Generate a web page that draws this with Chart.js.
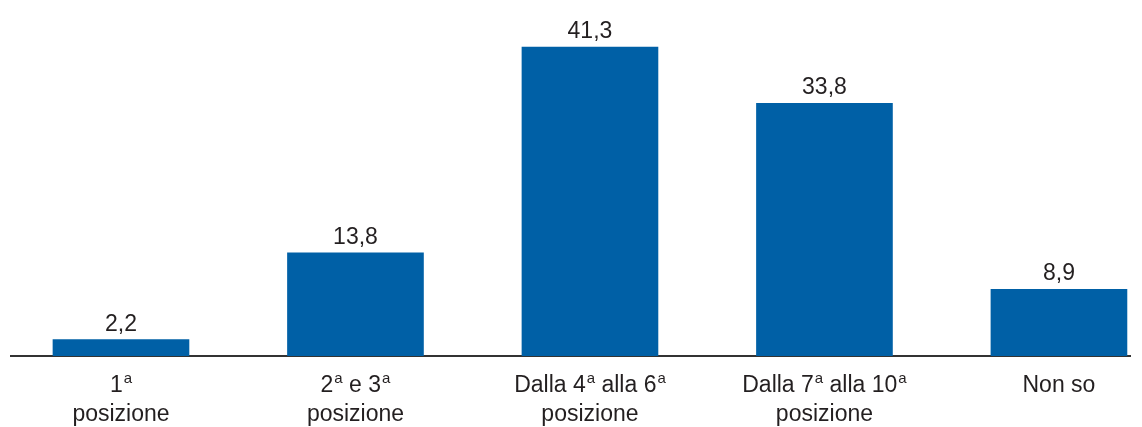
<!DOCTYPE html>
<html>
<head>
<meta charset="utf-8">
<script src="https://cdn.jsdelivr.net/npm/chart.js@4/dist/chart.umd.min.js"></script>
<style>
  html, body { margin: 0; padding: 0; background: #fff; }
  #wrap { width: 1142px; height: 427px; }
</style>
</head>
<body>
<div id="wrap"><canvas id="posChart"></canvas></div>
<script>
// categories (ª is set as a raised small "a") and values
var categories = [
    ['1ª', 'posizione'],
    ['2ª e 3ª', 'posizione'],
    ['Dalla 4ª alla 6ª', 'posizione'],
    ['Dalla 7ª alla 10ª', 'posizione'],
    ['Non so']
];
var values = [2.2, 13.8, 41.3, 33.8, 8.9];

var fontFamily = '"Liberation Sans", Arial, sans-serif';
var textColor = '#231f20';

// writes the value above each bar, with a decimal comma
var valueLabels = {
    id: 'valueLabels',
    afterDatasetsDraw: function (chart) {
        var ctx = chart.ctx;
        var meta = chart.getDatasetMeta(0);
        ctx.save();
        ctx.font = '23px ' + fontFamily;
        ctx.fillStyle = textColor;
        ctx.textAlign = 'center';
        ctx.textBaseline = 'alphabetic';
        meta.data.forEach(function (bar, i) {
            var txt = values[i].toFixed(1).replace('.', ',');
            ctx.fillText(txt, bar.x, bar.y - 9);
        });
        ctx.restore();
    }
};

// category names under the axis, with ordinal superscripts
var categoryLabels = {
    id: 'categoryLabels',
    afterDraw: function (chart) {
        var ctx = chart.ctx;
        var xs = chart.scales.x;
        var mainFont = '23px ' + fontFamily;
        var supFont = '15px ' + fontFamily;
        ctx.save();
        ctx.fillStyle = textColor;
        ctx.textAlign = 'left';
        ctx.textBaseline = 'alphabetic';
        categories.forEach(function (lines, i) {
            var cx = xs.getPixelForValue(i);
            lines.forEach(function (line, j) {
                var y = xs.top + 36 + j * 29;
                var parts = line.split('ª');
                ctx.font = supFont;
                var supW = ctx.measureText('a').width + 1;
                ctx.font = mainFont;
                var total = 0;
                parts.forEach(function (p, k) {
                    total += ctx.measureText(p).width;
                    if (k < parts.length - 1) total += supW;
                });
                var x = cx - total / 2;
                parts.forEach(function (p, k) {
                    ctx.font = mainFont;
                    ctx.fillText(p, x, y);
                    x += ctx.measureText(p).width;
                    if (k < parts.length - 1) {
                        ctx.font = supFont;
                        ctx.fillText('a', x + 1, y - 9);
                        x += supW;
                    }
                });
            });
        });
        ctx.restore();
    }
};

var ctx = document.getElementById('posChart').getContext('2d');
var myChart = new Chart(ctx, {
    type: 'bar',
    data: {
        datasets: [{
            data: values.map(function (v, i) { return { x: i, y: v }; }),
            backgroundColor: '#0060a6',
            barThickness: 136
        }]
    },
    options: {
        responsive: true,
        maintainAspectRatio: false,
        animation: false,
        layout: { padding: { left: 11, right: 12, top: 0, bottom: 0 } },
        plugins: {
            legend: { display: false },
            tooltip: { enabled: false }
        },
        scales: {
            y: {
                display: false,
                min: 0,
                max: 47.6
            },
            x: {
                type: 'linear',
                offset: false,
                min: -0.469,
                max: 4.303,
                grid: { display: false },
                border: { display: true, color: '#333333', width: 2 },
                ticks: { display: false },
                afterFit: function (scale) { scale.height = 71; }
            }
        }
    },
    plugins: [valueLabels, categoryLabels]
});
</script>
</body>
</html>
